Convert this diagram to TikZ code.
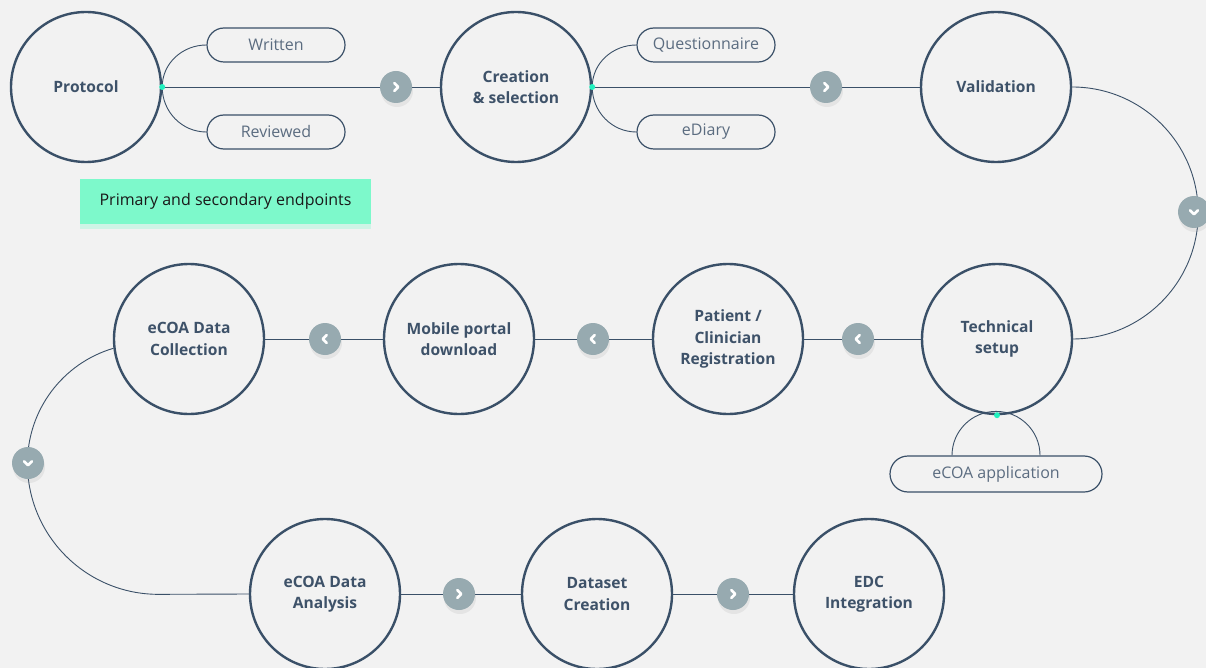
\documentclass[tikz,border=0pt]{standalone}
\usepackage{fontspec}
\setmainfont{Open Sans}
\usetikzlibrary{shadows,calc}
\definecolor{bgcol}{HTML}{F2F2F2}
\definecolor{slate}{HTML}{3A5068}
\definecolor{txtcol}{HTML}{3E5269}
\definecolor{chevcol}{HTML}{97AAB0}
\definecolor{mint}{HTML}{7DF9CB}
\definecolor{dotcol}{HTML}{22F0BE}
\tikzset{
  stage/.style={circle, draw=slate, line width=2.4pt, minimum size=150pt, inner sep=0pt,
    align=center, text=txtcol, font=\fontsize{15.6}{21.5}\selectfont\bfseries},
  tag/.style={rounded corners=17pt, draw=slate, line width=1.2pt, minimum width=138pt,
    minimum height=34pt, text=txtcol!85, font=\fontsize{16}{20}\selectfont},
  chev/.style={circle, fill=chevcol, minimum size=32pt, inner sep=0pt,
    drop shadow={opacity=0.12, shadow xshift=1pt, shadow yshift=-4pt}},
  chevline/.style={white, line width=2.6pt, line cap=round, line join=round},
  link/.style={draw=slate, line width=0.9pt},
  dot/.style={circle, fill=dotcol, inner sep=0pt, minimum size=6pt},
}
\begin{document}
\begin{tikzpicture}[x=1pt,y=-1pt]
  \useasboundingbox (0,0) rectangle (1206,668);
  \fill[bgcol] (0,0) rectangle (1206,668);

  % stages
  \node[stage] (proto) at (86,87) {Protocol};
  \node[stage] (create) at (516,87) {Creation\\\& selection};
  \node[stage] (valid) at (996,87) {Validation};
  \node[stage] (tech) at (997,339) {Technical\\setup};
  \node[stage] (reg) at (728,339) {Patient /\\Clinician\\Registration};
  \node[stage] (mob) at (459,339) {Mobile portal\\download};
  \node[stage] (coll) at (189,339) {eCOA Data\\Collection};
  \node[stage] (ana) at (325,594) {eCOA Data\\Analysis};
  \node[stage] (dset) at (597,594) {Dataset\\Creation};
  \node[stage] (edc) at (869,594) {EDC\\Integration};

  % tags
  \node[tag] (written) at (276,45) {Written};
  \node[tag] (reviewed) at (276,132) {Reviewed};
  \node[tag] (quest) at (706,45) {Questionnaire};
  \node[tag] (ediary) at (706,132) {eDiary};
  \node[tag, minimum width=212pt, minimum height=36pt, rounded corners=18pt] (app) at (996,474) {eCOA application};
  \node[fill=mint, minimum width=291pt, minimum height=45pt, text=black!90,
    font=\fontsize{16}{20}\selectfont,
    drop shadow={fill=mint, opacity=0.3, shadow xshift=0pt, shadow yshift=-5pt}] (ends) at (225.5,201.5) {Primary and secondary endpoints};

  % connectors
  \draw[link] (proto.east) -- (create.west);
  \draw[link] (create.east) -- (valid.west);
  \draw[link] (valid.east) arc[start angle=90, end angle=-90, radius=126pt];
  \draw[link] (tech) -- (reg) (reg) -- (mob) (mob) -- (coll);
  \draw[link] (coll.187) arc[start angle=106.5, end angle=180, radius=120pt]
    arc[start angle=180, end angle=270, radius=131pt] -- (ana.west);
  \draw[link] (ana) -- (dset) (dset) -- (edc);
  \draw[link] (proto.east) to[out=90, in=180] (written.west);
  \draw[link] (proto.east) to[out=-90, in=180] (reviewed.west);
  \draw[link] (create.east) to[out=90, in=180] (quest.west);
  \draw[link] (create.east) to[out=-90, in=180] (ediary.west);
  \coordinate (appl) at ($(app.north)+(-44,0)$);
  \draw[link] (appl) arc[start angle=180, end angle=0, radius=44pt];

  \node[dot] (pdot) at (proto.east) {};
  \node[dot] (cdot) at (create.east) {};
  \node[dot] (tdot) at (tech.south) {};

  % chevrons
  \foreach \n/\x/\y/\a in {c1/396/87/0, c2/826/87/0, c3/1194/212/-90,
      c4/858/339/180, c5/593/339/180, c6/325/339/180, c7/28/463/-90,
      c8/459/594/0, c9/733/594/0} {
    \node[chev] (\n) at (\x,\y) {};
    \draw[chevline] (\n.center) ++(\a:2.2pt) ++(\a+135:5.5pt) -- ++(\a-45:5.5pt) -- ++(\a-135:5.5pt);
  }
\end{tikzpicture}
\end{document}
